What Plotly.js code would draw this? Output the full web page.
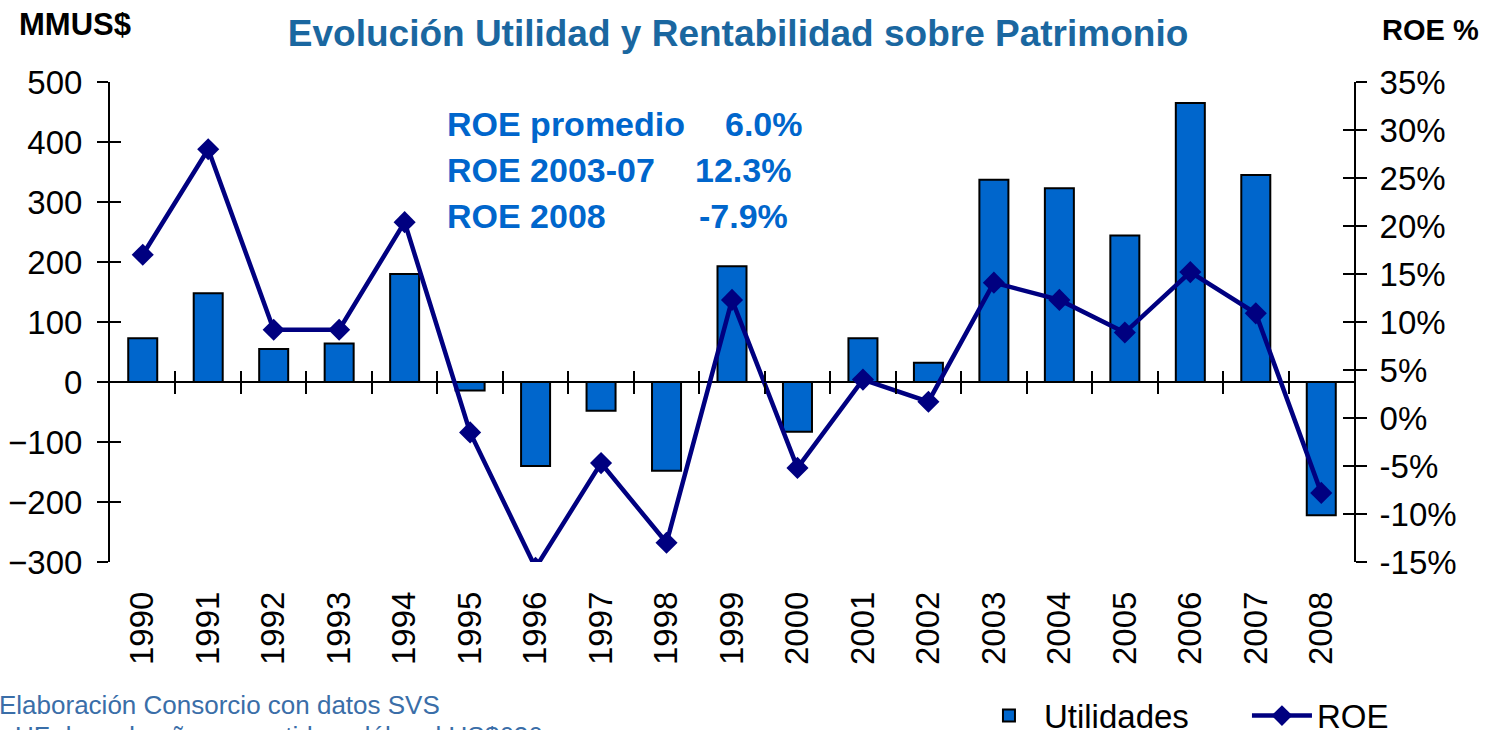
<!DOCTYPE html>
<html>
<head>
<meta charset="utf-8">
<script src="https://cdn.plot.ly/plotly-3.0.1.min.js"></script>
<style>html,body{margin:0;padding:0;background:#fff;}#chart{width:1491px;height:730px;}</style>
</head>
<body>
<div id="chart"></div>
<script>
const years = ["1990","1991","1992","1993","1994","1995","1996","1997","1998","1999","2000","2001","2002","2003","2004","2005","2006","2007","2008"];
const utilidades = [73, 148, 55, 64, 180, -14, -140, -48, -148, 193, -83, 73, 32, 337, 323, 244, 465, 345, -222];
const roe = [17.0, 28.0, 9.2, 9.2, 20.4, -1.5, -15.6, -4.7, -13.0, 12.3, -5.2, 4.0, 1.7, 14.1, 12.3, 8.9, 15.2, 10.9, -7.8];
const leftTicks = [-300, -200, -100, 0, 100, 200, 300, 400, 500];
const rightTicks = [-15, -10, -5, 0, 5, 10, 15, 20, 25, 30, 35];
const statLabels = ["ROE promedio", "ROE 2003-07", "ROE 2008"];
const statValues = ["6.0%", "12.3%", "-7.9%"];

const FONT = "Liberation Sans, Arial, sans-serif";
const leftRange = [-300, 500];
const rightRange = [-15, 35];
const zeroPos = (0 - leftRange[0]) / (leftRange[1] - leftRange[0]);
const boundaries = years.slice(0, -1).map((_, i) => i + 0.5);
const xRange = [-0.5, years.length - 0.5];

const traces = [
  {
    type: "bar", name: "Utilidades", x: years, y: utilidades,
    xaxis: "x", yaxis: "y",
    marker: {color: "#0066CC", line: {color: "#000000", width: 2}}
  },
  {
    type: "scatter", mode: "lines+markers", name: "ROE", x: years, y: roe,
    xaxis: "x", yaxis: "y2",
    line: {color: "#000080", width: 4.5},
    marker: {symbol: "diamond", size: 17, color: "#000080"}
  },
  // empty helper traces so the overlay tick axes get drawn
  {type: "scatter", x: [], y: [], xaxis: "x2", yaxis: "y3", showlegend: false, hoverinfo: "skip"},
  {type: "scatter", x: [], y: [], xaxis: "x3", yaxis: "y4", showlegend: false, hoverinfo: "skip"}
];

const axisFont = {family: FONT, size: 33, color: "#000"};
const tickStyle = {ticklen: 11, tickwidth: 2, tickcolor: "#000"};
const layout = {
  width: 1491, height: 730,
  margin: {l: 110, r: 137, t: 82, b: 168, autoexpand: false},
  paper_bgcolor: "#fff", plot_bgcolor: "#fff",
  showlegend: true,
  bargap: 0.557,
  title: {
    text: "Evolución Utilidad y Rentabilidad sobre Patrimonio",
    font: {family: FONT, size: 37, color: "#1A67A0", weight: "bold"},
    x: 0.495, xanchor: "center", y: 0.955, yanchor: "middle"
  },
  xaxis: {
    type: "category", range: xRange, automargin: false,
    showline: false, ticks: "", showgrid: false, zeroline: false,
    tickangle: -90, tickfont: axisFont, ticklabelstandoff: 22
  },
  xaxis2: Object.assign({
    overlaying: "x", anchor: "free", position: zeroPos, automargin: false,
    range: xRange, type: "linear",
    showline: false, showgrid: false, zeroline: false, showticklabels: false,
    tickmode: "array", tickvals: boundaries, ticks: "outside"
  }, tickStyle),
  xaxis3: Object.assign({
    overlaying: "x", anchor: "free", position: zeroPos, automargin: false,
    range: xRange, type: "linear",
    showline: false, showgrid: false, zeroline: false, showticklabels: false,
    tickmode: "array", tickvals: boundaries, ticks: "inside"
  }, tickStyle),
  yaxis: Object.assign({
    range: leftRange, tickmode: "array", tickvals: leftTicks, automargin: false,
    showline: true, linecolor: "#000", linewidth: 2,
    ticks: "outside",
    showgrid: false, zeroline: true, zerolinecolor: "#000", zerolinewidth: 2,
    tickfont: axisFont, ticklabelstandoff: 8
  }, tickStyle),
  yaxis3: Object.assign({
    overlaying: "y", side: "left", anchor: "x", range: leftRange, tickmode: "array", tickvals: leftTicks,
    automargin: false, showline: false, ticks: "inside",
    showgrid: false, zeroline: false, showticklabels: false
  }, tickStyle),
  yaxis2: Object.assign({
    overlaying: "y", side: "right", anchor: "x", range: rightRange, tickmode: "array", tickvals: rightTicks,
    ticktext: rightTicks.map(v => v + "%"), automargin: false,
    showline: true, linecolor: "#000", linewidth: 2,
    ticks: "outside",
    showgrid: false, zeroline: false,
    tickfont: axisFont, ticklabelstandoff: 6
  }, tickStyle),
  yaxis4: Object.assign({
    overlaying: "y", side: "right", anchor: "x", range: rightRange, tickmode: "array", tickvals: rightTicks,
    automargin: false, showline: false, ticks: "inside",
    showgrid: false, zeroline: false, showticklabels: false
  }, tickStyle),
  legend: {
    orientation: "h", x: 0.6945, xanchor: "left", y: -0.32, yanchor: "middle",
    font: {family: FONT, size: 33, color: "#000"},
    itemwidth: 60, entrywidth: 198, entrywidthmode: "pixels",
    bgcolor: "rgba(0,0,0,0)", traceorder: "normal"
  },
  annotations: []
};

const statY = [0.9125, 0.8167, 0.7208];
const statRight = [0.5587, 0.549, 0.5466];
const statFont = {family: FONT, size: 34, color: "#0066CC", weight: "bold"};
statLabels.forEach((t, i) => {
  layout.annotations.push({text: t, xref: "paper", yref: "paper", x: 0.2693, y: statY[i],
    xanchor: "left", yanchor: "middle", showarrow: false, font: statFont});
  layout.annotations.push({text: statValues[i], xref: "paper", yref: "paper", x: statRight[i], y: statY[i],
    xanchor: "right", yanchor: "middle", showarrow: false, font: statFont});
});
layout.annotations.push({text: "MMUS$", xref: "paper", yref: "paper", x: -0.0748, y: 1.119,
  xanchor: "left", yanchor: "middle", showarrow: false,
  font: {family: FONT, size: 31, color: "#000", weight: "bold"}});
layout.annotations.push({text: "ROE %", xref: "paper", yref: "paper", x: 1.0209, y: 1.108,
  xanchor: "left", yanchor: "middle", showarrow: false,
  font: {family: FONT, size: 29, color: "#000", weight: "bold"}});
layout.annotations.push({text: "Elaboración Consorcio con datos SVS", xref: "paper", yref: "paper", x: -0.0908, y: -0.298,
  xanchor: "left", yanchor: "middle", showarrow: false,
  font: {family: FONT, size: 26, color: "#3A6EA8"}});
layout.annotations.push({text: "UF de cada año convertido a dólar al US$636", xref: "paper", yref: "paper", x: -0.078, y: -0.362,
  xanchor: "left", yanchor: "middle", showarrow: false,
  font: {family: FONT, size: 26, color: "#3A6EA8"}});

Plotly.newPlot("chart", traces, layout, {displayModeBar: false, staticPlot: true});
</script>
</body>
</html>
